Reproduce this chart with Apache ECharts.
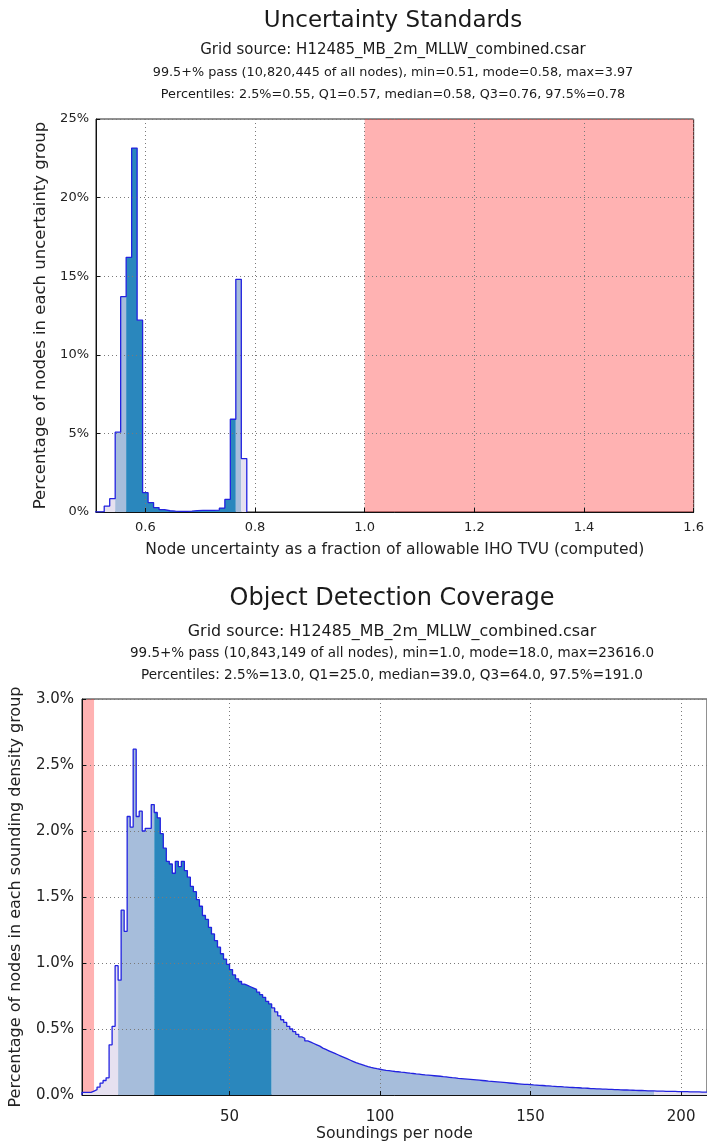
<!DOCTYPE html>
<html>
<head>
<meta charset="utf-8">
<script src="https://cdn.jsdelivr.net/npm/echarts@6/dist/echarts.min.js"></script>
<style>
  html, body { margin: 0; padding: 0; background: #ffffff; }
  #chart { width: 707px; height: 1143px; }
</style>
</head>
<body>
<div id="chart"></div>
<script>
// ---------------- Uncertainty Standards ----------------
// Histogram bin centres (fraction of allowable TVU) and % of nodes per bin
const uncCentres = [0.51, 0.52, 0.53, 0.54, 0.55, 0.56, 0.57, 0.58, 0.59, 0.60,
                    0.61, 0.62, 0.63, 0.64, 0.65, 0.66, 0.67, 0.68, 0.69, 0.70,
                    0.71, 0.72, 0.73, 0.74, 0.75, 0.76, 0.77, 0.78];
const uncPct = [0.01, 0.02, 0.38, 0.85, 5.08, 13.7, 16.2, 23.15, 12.2, 1.23,
                0.60, 0.28, 0.15, 0.08, 0.05, 0.04, 0.04, 0.05, 0.09, 0.10,
                0.10, 0.10, 0.12, 0.25, 0.80, 5.9, 14.8, 3.4];
const uncBinWidth = 0.01;
const uncPercentiles = [0.55, 0.57, 0.76, 0.78];   // 2.5%, Q1, Q3, 97.5%
const uncFailBand = [1.0, 1.6];
const uncXTicks = [0.6, 0.8, 1.0, 1.2, 1.4, 1.6];
const uncTitles = [
  'Uncertainty Standards',
  'Grid source: H12485_MB_2m_MLLW_combined.csar',
  '99.5+% pass (10,820,445 of all nodes), min=0.51, mode=0.58, max=3.97',
  'Percentiles: 2.5%=0.55, Q1=0.57, median=0.58, Q3=0.76, 97.5%=0.78'
];

// ---------------- Object Detection Coverage ----------------
// Soundings-per-node histogram: one bin per integer count, starting at 1
const sndFirstBin = 1;
const sndPct = [
  0.02, 0.02, 0.02, 0.03, 0.04, 0.06, 0.09, 0.11, 0.13, 0.38,   // 1-10
  0.52, 0.98, 0.87, 1.40, 1.24, 2.11, 2.03, 2.62, 2.11, 2.15,   // 11-20
  2.00, 2.02, 2.02, 2.20, 2.14, 2.10, 1.98, 1.87, 1.77, 1.75,   // 21-30
  1.68, 1.77, 1.73, 1.77, 1.70, 1.65, 1.58, 1.54, 1.48, 1.43,   // 31-40
  1.36, 1.33, 1.27, 1.22, 1.17, 1.12, 1.07, 1.03, 0.99, 0.95,   // 41-50
  0.91, 0.88, 0.86, 0.84, 0.83, 0.82, 0.81, 0.80, 0.78, 0.76,   // 51-60
  0.74, 0.71, 0.69, 0.66, 0.63, 0.60, 0.57, 0.55, 0.52, 0.50,   // 61-70
  0.48, 0.46, 0.44, 0.43, 0.41, 0.40, 0.39, 0.38, 0.37, 0.355,  // 71-80
  0.345, 0.335, 0.325, 0.315, 0.305, 0.295, 0.285, 0.275, 0.265, 0.255, // 81-90
  0.245, 0.237, 0.230, 0.222, 0.215, 0.209, 0.204, 0.199, 0.195, 0.191, // 91-100
  0.187, 0.184, 0.181, 0.178, 0.176, 0.173, 0.171, 0.168, 0.165, 0.163, // 101-110
  0.160, 0.158, 0.155, 0.152, 0.150, 0.148, 0.146, 0.144, 0.142, 0.139, // 111-120
  0.137, 0.134, 0.131, 0.129, 0.126, 0.124, 0.122, 0.120, 0.118, 0.116, // 121-130
  0.114, 0.112, 0.110, 0.108, 0.105, 0.103, 0.101, 0.099, 0.097, 0.095, // 131-140
  0.093, 0.091, 0.089, 0.087, 0.085, 0.083, 0.081, 0.080, 0.078, 0.076, // 141-150
  0.075, 0.073, 0.072, 0.070, 0.069, 0.067, 0.066, 0.064, 0.063, 0.061, // 151-160
  0.060, 0.058, 0.057, 0.056, 0.055, 0.053, 0.052, 0.051, 0.049, 0.048, // 161-170
  0.047, 0.046, 0.045, 0.044, 0.043, 0.042, 0.041, 0.040, 0.039, 0.038, // 171-180
  0.038, 0.037, 0.036, 0.035, 0.034, 0.034, 0.033, 0.032, 0.032, 0.031, // 181-190
  0.030, 0.030, 0.029, 0.028, 0.028, 0.027, 0.027, 0.026, 0.026, 0.025, // 191-200
  0.025, 0.024, 0.024, 0.023, 0.023, 0.022, 0.022, 0.021              // 201-208
];
const sndPercentiles = [13, 25, 64, 191];         // 2.5%, Q1, Q3, 97.5%
const sndFailBand = [1, 5];
const sndXTicks = [50, 100, 150, 200];
const sndTitles = [
  'Object Detection Coverage',
  'Grid source: H12485_MB_2m_MLLW_combined.csar',
  '99.5+% pass (10,843,149 of all nodes), min=1.0, mode=18.0, max=23616.0',
  'Percentiles: 2.5%=13.0, Q1=25.0, median=39.0, Q3=64.0, 97.5%=191.0'
];

// ---------------- styling ----------------
const FONT = '"DejaVu Sans", "Liberation Sans", sans-serif';
const PALE = '#e6e1f0';
const LIGHT = '#a6bddb';
const DARK = '#2a87bd';
const OUTLINE = '#2222e0';
const FAIL = 'rgba(255, 0, 0, 0.3)';
const GRID_LINE = { color: '#7a7a7a', type: [1, 3], width: 1 };

// Outline of a step histogram, closed down to zero at both ends
function stepOutline(lefts, vals, w) {
  const pts = [[lefts[0], 0]];
  vals.forEach((v, i) => { pts.push([lefts[i], v], [lefts[i] + w, v]); });
  pts.push([lefts[lefts.length - 1] + w, 0]);
  return pts;
}
// Step-shaped piece of the histogram between a and b
function stepPiece(lefts, vals, w, a, b) {
  const pts = [];
  vals.forEach((v, i) => {
    const lo = Math.max(lefts[i], a), hi = Math.min(lefts[i] + w, b);
    if (hi > lo + 1e-12) pts.push([lo, v], [hi, v]);
  });
  return pts;
}
// Step-shaped piece made of the whole bins whose centre passes a test
function binPiece(lefts, vals, w, test) {
  const pts = [];
  vals.forEach((v, i) => {
    const c = lefts[i] + w / 2;
    if (test(c)) pts.push([lefts[i], v], [lefts[i] + w, v]);
  });
  return pts;
}
function fill(gi, data, color, z) {
  return { type: 'line', xAxisIndex: gi, yAxisIndex: gi, data, symbol: 'none',
           lineStyle: { width: 0, opacity: 0 }, areaStyle: { color, opacity: 1 },
           z, silent: true };
}
function band(gi, range, z) {
  return { type: 'line', xAxisIndex: gi, yAxisIndex: gi, data: [[range[0], 0]],
           symbol: 'none', lineStyle: { width: 0, opacity: 0 }, z, silent: true,
           markArea: { silent: true, itemStyle: { color: FAIL, borderWidth: 0 },
                       data: [[{ xAxis: range[0] }, { xAxis: range[1] }]] } };
}
function outline(gi, data) {
  return { type: 'line', xAxisIndex: gi, yAxisIndex: gi, data, symbol: 'none',
           lineStyle: { color: OUTLINE, width: 1.3 }, z: 20, silent: true };
}

const uncLefts = uncCentres.map(c => c - uncBinWidth / 2);
const sndLefts = sndPct.map((_, i) => sndFirstBin + i);
const sndEnd = sndLefts[sndLefts.length - 1] + 1;
const [u25, uq1, uq3, u975] = uncPercentiles;
const [s25, sq1, sq3, s975] = sndPercentiles;
const eps = 1e-9;

function xAxisCfg(gi, min, max, ticks, fmt, fs, name, nameFs, nameGap, margin) {
  return {
    gridIndex: gi, type: 'value', min, max, z: 10,
    axisLine: { show: true, onZero: false, lineStyle: { color: '#111', width: 1 } },
    axisTick: { show: true, inside: true, length: 4, customValues: ticks, lineStyle: { color: '#111' } },
    axisLabel: { customValues: ticks, formatter: fmt, fontSize: fs, color: '#222', fontFamily: FONT, margin },
    splitLine: { show: true, lineStyle: GRID_LINE },
    name, nameLocation: 'middle', nameGap,
    nameTextStyle: { fontSize: nameFs, color: '#222', fontFamily: FONT }
  };
}
function yAxisCfg(gi, max, interval, fmt, fs, name, nameFs, nameGap, margin) {
  return {
    gridIndex: gi, type: 'value', min: 0, max, interval, z: 10,
    axisLine: { show: true, onZero: false, lineStyle: { color: '#111', width: 1 } },
    axisTick: { show: true, inside: true, length: 4, lineStyle: { color: '#111' } },
    axisLabel: { formatter: fmt, fontSize: fs, color: '#222', fontFamily: FONT, margin },
    splitLine: { show: true, lineStyle: GRID_LINE },
    name, nameLocation: 'middle', nameGap, nameRotate: 90,
    nameTextStyle: { fontSize: nameFs, color: '#222', fontFamily: FONT }
  };
}

function headerTexts(lines, cx, ys, sizes) {
  return lines.map((t, i) => ({
    type: 'text', x: cx, y: ys[i], silent: true,
    style: { text: t, align: 'center', verticalAlign: 'middle', fill: '#1a1a1a',
             font: sizes[i] + 'px ' + FONT }
  }));
}

const chart = echarts.init(document.getElementById('chart'), null, { renderer: 'canvas' });
chart.setOption({
  animation: false,
  backgroundColor: '#ffffff',
  graphic: [
    ...headerTexts(uncTitles, 393, [21, 50, 73, 95], [23, 15, 12.8, 12.8]),
    ...headerTexts(sndTitles, 392, [599, 632, 653, 675], [24, 15.9, 13.5, 13.6])
  ],
  grid: [
    { left: 96, top: 119, right: 11, height: 393, show: true, borderColor: '#222', borderWidth: 1, backgroundColor: 'transparent' },
    { left: 81, top: 699, right: 0, height: 396, show: true, borderColor: '#222', borderWidth: 1, backgroundColor: 'transparent' }
  ],
  xAxis: [
    xAxisCfg(0, 0.51, 1.6, uncXTicks, v => v.toFixed(1), 13,
             'Node uncertainty as a fraction of allowable IHO TVU (computed)', 15.5, 30, 9),
    xAxisCfg(1, 1, 208.6, sndXTicks, v => String(v), 15,
             'Soundings per node', 15.7, 31, 15)
  ],
  yAxis: [
    yAxisCfg(0, 25, 5, v => v + '%', 13,
             'Percentage of nodes in each uncertainty group', 16.5, 47, 7),
    yAxisCfg(1, 3, 0.5, v => v.toFixed(1) + '%', 15,
             'Percentage of nodes in each sounding density group', 16, 58, 8)
  ],
  series: [
    // uncertainty chart: regions assigned per bin by its centre
    band(0, uncFailBand, 1),
    fill(0, binPiece(uncLefts, uncPct, uncBinWidth, c => c < u25 - eps), PALE, 3),
    fill(0, binPiece(uncLefts, uncPct, uncBinWidth, c => c >= u25 - eps && c < uq1 - eps), LIGHT, 3),
    fill(0, binPiece(uncLefts, uncPct, uncBinWidth, c => c >= uq1 - eps && c <= uq3 + eps), DARK, 3),
    fill(0, binPiece(uncLefts, uncPct, uncBinWidth, c => c > uq3 + eps && c < u975 - eps), LIGHT, 3),
    fill(0, binPiece(uncLefts, uncPct, uncBinWidth, c => c >= u975 - eps), PALE, 3),
    outline(0, stepOutline(uncLefts, uncPct, uncBinWidth)),
    // soundings chart
    band(1, sndFailBand, 1),
    fill(1, stepPiece(sndLefts, sndPct, 1, sndLefts[0], s25), PALE, 3),
    fill(1, stepPiece(sndLefts, sndPct, 1, s25, sq1), LIGHT, 3),
    fill(1, stepPiece(sndLefts, sndPct, 1, sq1, sq3), DARK, 3),
    fill(1, stepPiece(sndLefts, sndPct, 1, sq3, s975), LIGHT, 3),
    fill(1, stepPiece(sndLefts, sndPct, 1, s975, sndEnd), PALE, 3),
    outline(1, stepOutline(sndLefts, sndPct, 1))
  ]
});
</script>
</body>
</html>
